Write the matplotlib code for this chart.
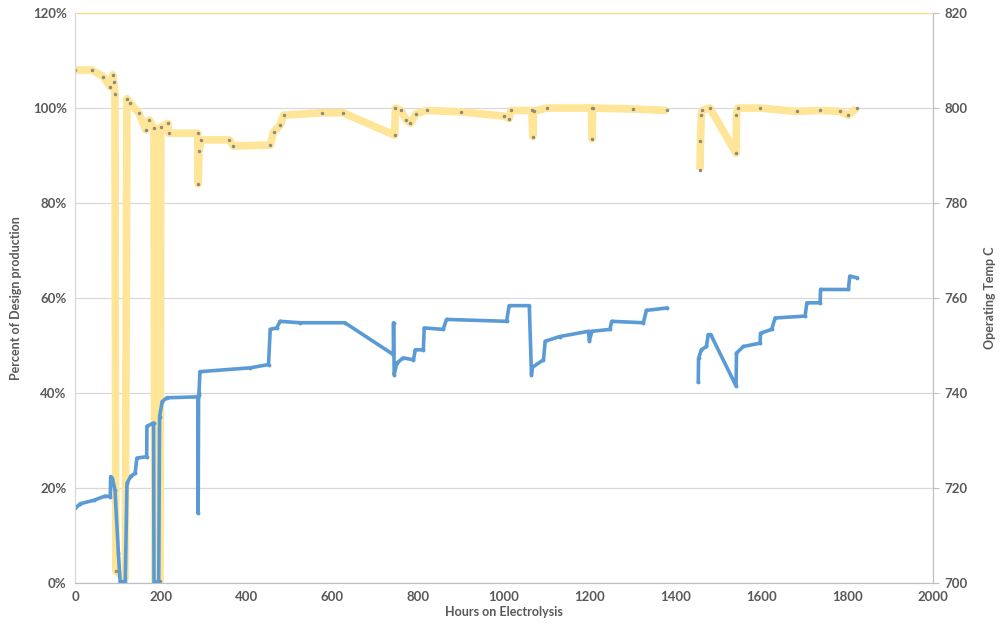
import numpy as np
import matplotlib
matplotlib.use("Agg")
import matplotlib.pyplot as plt
from matplotlib.ticker import PercentFormatter

plt.rcParams['font.family'] = ['Lato', 'DejaVu Sans']

nan = np.nan

# production, % of design (left axis)
hours_prod = [0, 12, 43, 70, 82, 83, 87, 93, 101, 105, 117, 121, 130, 140, 144, 167, 167.5, 183, 184, 195,
              197, 203, 214, 286, 287, 288, 289, 291, 408, 451, 455, 470, 478, 524, 629, 742, 742.5, 744,
              750, 765, 789, 793, 812, 814, 858, 866, 1006, 1012, 1059, 1064, 1066, 1092, 1096, 1130, 1197,
              1199, 1205, 1247, 1251, 1325, 1332, 1379, nan, 1453, 1453.5, 1460, 1472, 1476, 1482, 1541,
              1542, 1558, 1597, 1598, 1624, 1632, 1702, 1706, 1737, 1738, 1803, 1806, 1822]
prod_pct = [15.7, 16.7, 17.4, 18.3, 18.2, 22.4, 22.0, 19.6, 6.3, 0.3, 0.3, 21.0, 22.5, 23.1, 26.3, 26.6, 33.0,
            33.7, 0.0, 0.0, 35.0, 38.2, 39.0, 39.2, 14.7, 39.5, 40.0, 44.5, 45.3, 46.0, 53.4, 53.7, 55.1,
            54.8, 54.8, 48.1, 54.8, 43.9, 46.3, 47.4, 47.0, 49.1, 49.1, 53.7, 53.4, 55.5, 55.1, 58.4, 58.4,
            43.9, 45.4, 47.0, 50.9, 51.9, 53.0, 51.0, 53.0, 53.4, 55.1, 54.8, 57.4, 57.9, nan, 42.4, 47.3,
            49.1, 49.8, 52.3, 52.3, 41.5, 48.4, 49.8, 50.5, 52.6, 53.4, 55.8, 56.2, 59.0, 59.0, 61.8, 61.8,
            64.6, 64.3]

# operating temperature, C (right axis)
hours_temp = [0, 39, 66, 82, 88, 90, 93, 95, 117, 121, 129, 149, 165, 173, 184, 186, 198, 200, 216, 219, 286,
              287, 289, 294, 360, 369, 455, 463, 478, 486, 576, 625, 745, 747, 760, 772, 782, 795, 820, 900,
              1000, 1012, 1016, 1065, 1067, 1069, 1100, 1204, 1205, 1207, 1300, 1380, nan, 1457, 1458, 1460,
              1462, 1480, 1541, 1542, 1545, 1597, 1682, 1737, 1783, 1803, 1822]
temp_c = [808, 808, 806.6, 804.5, 807, 805.5, 803, 702.5, 701, 802, 801, 798.9, 795.4, 797.5, 795.8, 700.5,
          700.5, 796, 796.8, 794.7, 794.7, 784, 791, 793.3, 793.3, 792, 792.2, 795, 796.4, 798.5, 799, 799,
          794.3, 800, 799.5, 797.5, 796.8, 798.8, 799.5, 799.2, 798.3, 797.8, 799.5, 799.5, 794, 799.3, 800,
          800, 793.5, 800, 799.8, 799.5, nan, 787, 793, 798.5, 799.5, 800, 790.5, 798.5, 800, 800, 799.3,
          799.5, 799.3, 798.5, 800]

grey_txt = '#595959'
grid_c = '#d9d9d9'
yellow = '#ffe597'
blue = '#5b9bd5'

fig = plt.figure(figsize=(10.01, 6.34), dpi=100)
ax1 = fig.add_axes([0.075, 0.0804, 0.857, 0.899])
ax2 = ax1.twinx()

# temperature underneath, production on top
ax1.set_zorder(ax2.get_zorder() + 1)
ax1.patch.set_visible(False)

ax2.plot(hours_temp, temp_c, color=yellow, lw=5.5, solid_capstyle='butt',
         marker='o', ms=1.5, mfc='#8c8c80', mec='#8c8c80')
ax1.plot(hours_prod, prod_pct, color=blue, lw=2.6, marker='o', ms=1.8, mfc=blue, mec=blue)

ax1.set_xlim(0, 2000)
ax1.set_ylim(0, 120)
ax2.set_ylim(700, 820)
ax1.set_xticks(range(0, 2001, 200))
ax1.set_yticks(range(0, 121, 20))
ax2.set_yticks(range(700, 821, 20))
ax1.yaxis.set_major_formatter(PercentFormatter(100, decimals=0))

ax2.grid(True, color=grid_c, lw=0.9)
ax2.set_xticks(range(0, 2001, 200))
ax1.grid(False)

for ax in (ax1, ax2):
    ax.spines['top'].set_color('#f5d98e')
    ax.spines['left'].set_color(grid_c)
    ax.spines['bottom'].set_color('#bfbfbf')
    ax.spines['right'].set_color('#bfbfbf')

ax1.tick_params(axis='both', length=0, labelsize=9.5, labelcolor=grey_txt, pad=6)
ax2.tick_params(axis='y', length=4, color='#bfbfbf', labelsize=9.5, labelcolor=grey_txt, pad=4)
for lab in ax1.get_xticklabels() + ax1.get_yticklabels() + ax2.get_yticklabels():
    lab.set_fontweight('bold')

ax1.set_xlabel('Hours on Electrolysis', fontsize=9, fontweight='bold', color=grey_txt, labelpad=2)
ax1.set_ylabel('Percent of Design production', fontsize=9, fontweight='bold', color=grey_txt, labelpad=8)
ax2.set_ylabel('Operating Temp C', fontsize=9, fontweight='bold', color=grey_txt, labelpad=12)

fig.savefig('out.png', dpi=100)
